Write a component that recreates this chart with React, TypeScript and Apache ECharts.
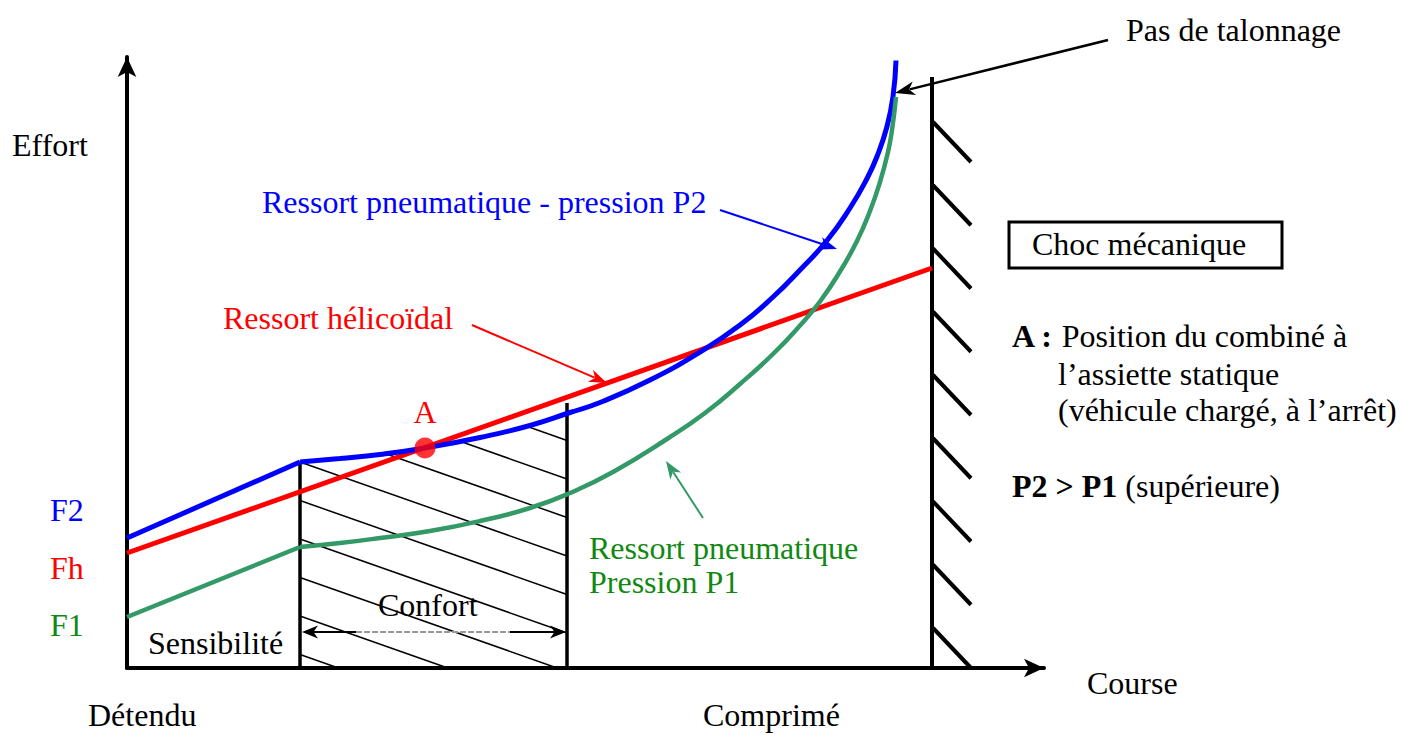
import React, { useEffect, useRef } from "react";
import * as echarts from "echarts";

// ---- Data (arbitrary units: course on x, effort on y) ----
const courseMax = 917;
const effortMax = 611;

// Ressort hélicoïdal (straight line)
const helicoidal: number[][] = [[0, 115], [805, 400]];

// Ressort pneumatique - pression P2
const p2Sensibilite: number[][] = [[0, 130], [173, 206]];
const p2Courbe: number[][] = [
  [173, 206], [213, 209.5], [253, 213.5], [298, 220], [353, 230.5], [403, 242.5],
  [443, 255.5], [473, 265.5], [523, 288], [573, 316], [613, 343], [646, 371],
  [673, 398], [700, 427.5], [723, 460], [740, 489.5], [750, 511.5], [760, 541.5],
  [766, 571.5], [769, 607.5],
];

// Ressort pneumatique - pression P1
const p1Sensibilite: number[][] = [[0, 51], [173, 121]];
const p1Courbe: number[][] = [
  [173, 121], [213, 125], [253, 130], [303, 137], [353, 147], [403, 160],
  [443, 175], [486, 196], [540, 229], [578, 255], [613, 284], [646, 314],
  [673, 342.5], [693, 366.5], [713, 396.5], [730, 427], [743, 457], [753, 486],
  [761, 516], [765, 538], [769, 571],
];

// Point A (assiette statique)
const pointA: number[][] = [[298, 220]];

// Zone de confort
const confortDebut = 173;
const confortFin = 440;
const confortHaut = 265;

// Butée (pas de talonnage)
const butee = 805;
const buteeHaut = 591;

// ---- derived geometry ----
function blueAt(x: number): number {
  for (let i = 0; i < p2Courbe.length - 1; i++) {
    const [xa, ya] = p2Courbe[i];
    const [xb, yb] = p2Courbe[i + 1];
    if (x >= xa && x <= xb) return ya + ((yb - ya) * (x - xa)) / (xb - xa);
  }
  return p2Courbe[p2Courbe.length - 1][1];
}

const hatchSlope = 0.352;
const hatchStep = 38.5;
const hatchLines: { coords: number[][] }[] = [];
for (let k = -4; k <= 6; k++) {
  const y0 = p2Courbe[0][1] - hatchStep * k;
  const lineY = (x: number) => y0 - hatchSlope * (x - confortDebut);
  let xs: number | null = null;
  for (let x = confortDebut; x <= confortFin; x += 0.25) {
    if (lineY(x) <= blueAt(x) + 0.01) { xs = x; break; }
  }
  if (xs === null) continue;
  let xe = confortFin;
  if (lineY(xe) < 0) xe = confortDebut + y0 / hatchSlope;
  if (xe <= xs) continue;
  hatchLines.push({ coords: [[xs, lineY(xs)], [xe, lineY(xe)]] });
}

const wallHatch: { coords: number[][] }[] = [];
for (let k = 0; k < 9; k++) {
  const y0 = 546 - 63.25 * k;
  wallHatch.push({ coords: [[butee + 1, y0], [butee + 39, y0 - 40]] });
}

const FONT = '"Liberation Serif", "Times New Roman", serif';
const FS = 32;

function arrowHead(x1: number, y1: number, x2: number, y2: number, color: string, hl: number, hw: number) {
  const dx = x2 - x1, dy = y2 - y1;
  const len = Math.hypot(dx, dy);
  const ux = dx / len, uy = dy / len;
  const bx = x2 - ux * hl, by = y2 - uy * hl;
  const nx = -uy, ny = ux;
  const ix = x2 - ux * hl * 0.72, iy = y2 - uy * hl * 0.72;
  return {
    type: "polygon",
    z: 60,
    shape: { points: [[x2, y2], [bx + (nx * hw) / 2, by + (ny * hw) / 2], [ix, iy], [bx - (nx * hw) / 2, by - (ny * hw) / 2]] },
    style: { fill: color },
  };
}

function arrow(x1: number, y1: number, x2: number, y2: number, color: string, width: number, hl: number, hw: number) {
  const dx = x2 - x1, dy = y2 - y1;
  const len = Math.hypot(dx, dy);
  const ux = dx / len, uy = dy / len;
  const bx = x2 - ux * hl * 0.75, by = y2 - uy * hl * 0.75;
  return [
    { type: "line", z: 60, shape: { x1, y1, x2: bx, y2: by }, style: { stroke: color, lineWidth: width } },
    arrowHead(x1, y1, x2, y2, color, hl, hw),
  ];
}

function txt(x: number, y: number, text: string, color = "#000", align = "left", rich?: any) {
  return {
    type: "text",
    z: 70,
    x,
    y,
    style: {
      text,
      fill: color,
      font: `${FS}px ${FONT}`,
      fontSize: FS,
      fontFamily: FONT,
      align,
      verticalAlign: "middle",
      rich,
    },
  };
}

export default function App() {
  const ref = useRef<HTMLDivElement>(null);
  useEffect(() => {
    if (!ref.current) return;
    const chart = echarts.init(ref.current, undefined, { renderer: "svg" });
    const boldRich = { b: { fontWeight: "bold", fontSize: FS, fontFamily: FONT, fill: "#000" } };
    chart.setOption({
      animation: false,
      backgroundColor: "#fff",
      grid: { left: 127, top: 57, width: 917, height: 611, containLabel: false },
      xAxis: {
        type: "value",
        min: 0,
        max: courseMax,
        axisLine: { show: true, onZero: false, symbol: ["none", "arrow"], symbolSize: [14, 20], lineStyle: { color: "#000", width: 4 } },
        axisTick: { show: false },
        axisLabel: { show: false },
        splitLine: { show: false },
      },
      yAxis: {
        type: "value",
        min: 0,
        max: effortMax,
        axisLine: { show: true, onZero: false, symbol: ["none", "arrow"], symbolSize: [14, 20], lineStyle: { color: "#000", width: 4 } },
        axisTick: { show: false },
        axisLabel: { show: false },
        splitLine: { show: false },
      },
      series: [
        {
          type: "lines",
          coordinateSystem: "cartesian2d",
          data: hatchLines,
          lineStyle: { color: "#000", width: 1.5, opacity: 1 },
          silent: true,
          z: 1,
        },
        {
          type: "lines",
          coordinateSystem: "cartesian2d",
          data: [
            { coords: [[confortDebut, 0], [confortDebut, p2Courbe[0][1]]] },
            { coords: [[confortFin, 0], [confortFin, confortHaut]] },
          ],
          lineStyle: { color: "#000", width: 3.5, opacity: 1 },
          silent: true,
          z: 2,
        },
        {
          type: "lines",
          coordinateSystem: "cartesian2d",
          data: [{ coords: [[butee, 0], [butee, buteeHaut]] }, ...wallHatch],
          lineStyle: { color: "#000", width: 4, opacity: 1 },
          silent: true,
          z: 2,
        },
        {
          name: "Ressort hélicoïdal",
          type: "line",
          data: helicoidal,
          showSymbol: false,
          lineStyle: { color: "#ff0000", width: 5 },
          z: 3,
        },
        {
          name: "Ressort pneumatique - pression P2",
          type: "line",
          data: p2Sensibilite,
          showSymbol: false,
          lineStyle: { color: "#0000ff", width: 5 },
          z: 4,
        },
        {
          name: "Ressort pneumatique - pression P2",
          type: "line",
          data: p2Courbe,
          smooth: 0.5,
          clip: false,
          showSymbol: false,
          lineStyle: { color: "#0000ff", width: 5 },
          z: 4,
        },
        {
          name: "Ressort pneumatique - pression P1",
          type: "line",
          data: p1Sensibilite,
          showSymbol: false,
          lineStyle: { color: "#339966", width: 4.5 },
          z: 5,
        },
        {
          name: "Ressort pneumatique - pression P1",
          type: "line",
          data: p1Courbe,
          smooth: 0.5,
          clip: false,
          showSymbol: false,
          lineStyle: { color: "#339966", width: 4.5 },
          z: 5,
        },
        {
          name: "A",
          type: "scatter",
          data: pointA,
          symbolSize: 21,
          itemStyle: { color: "#ff0000" },
          z: 6,
        },
      ],
      graphic: [
        txt(12, 145, "Effort"),
        txt(50, 510, "F2", "#0000ff"),
        txt(50, 568, "Fh", "#ff0000"),
        txt(50, 625, "F1", "#118811"),
        txt(148, 643, "Sensibilité"),
        txt(378, 605, "Confort"),
        txt(88, 715, "Détendu"),
        txt(703, 715, "Comprimé"),
        txt(1087, 683, "Course"),
        txt(1126, 30, "Pas de talonnage"),
        {
          type: "rect",
          z: 60,
          shape: { x: 1009, y: 222, width: 273, height: 46 },
          style: { fill: "none", stroke: "#000", lineWidth: 3 },
        },
        txt(1032, 244, "Choc mécanique"),
        txt(1012, 336, "{b|A :} Position du combiné à", "#000", "left", boldRich),
        txt(1058, 374, "l’assiette statique"),
        txt(1058, 410, "(véhicule chargé, à l’arrêt)"),
        txt(1012, 486, "{b|P2 > P1} (supérieure)", "#000", "left", boldRich),
        txt(262, 202, "Ressort pneumatique - pression P2", "#0000ff"),
        txt(223, 318, "Ressort hélicoïdal", "#ff0000"),
        txt(425, 412, "A", "#ff0000", "center"),
        txt(589, 548, "Ressort pneumatique", "#118811"),
        txt(589, 582, "Pression P1", "#118811"),
        ...arrow(1108, 40, 895, 93, "#000", 2.5, 20, 14),
        ...arrow(720, 210, 837, 249, "#0000ff", 2, 18, 13),
        ...arrow(472, 325, 607, 383, "#ff0000", 2, 18, 13),
        ...arrow(703, 518, 666, 461, "#339966", 2, 18, 13),
        // Confort double arrow
        { type: "line", z: 60, shape: { x1: 312, y1: 632, x2: 356, y2: 632 }, style: { stroke: "#000", lineWidth: 2 } },
        { type: "line", z: 60, shape: { x1: 356, y1: 632, x2: 510, y2: 632 }, style: { stroke: "#999", lineWidth: 2, lineDash: [6, 2] } },
        { type: "line", z: 60, shape: { x1: 510, y1: 632, x2: 556, y2: 632 }, style: { stroke: "#000", lineWidth: 2 } },
        arrowHead(340, 632, 302, 632, "#000", 16, 13),
        arrowHead(530, 632, 566, 632, "#000", 16, 13),
      ],
    });
    return () => chart.dispose();
  }, []);
  return (
    <div
      ref={ref}
      style={{ position: "absolute", left: 0, top: 0, width: 1402, height: 735, background: "#fff" }}
    />
  );
}
